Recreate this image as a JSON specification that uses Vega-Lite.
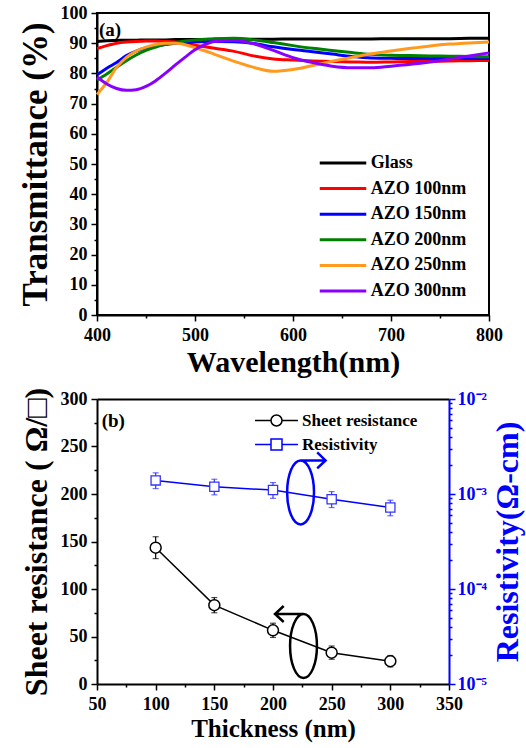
{
  "$schema": "https://vega.github.io/schema/vega-lite/v6.json",
  "padding": {"left": 16, "top": 3, "right": 5, "bottom": 5},
  "spacing": 9,
  "resolve": {"scale": {"color": "independent", "shape": "independent"}, "legend": {"color": "independent", "shape": "independent"}},
  "config": {
    "font": "Liberation Serif",
    "view": {"stroke": null},
    "axis": {
      "labelFont": "Liberation Serif", "labelFontWeight": "bold", "labelFontSize": 18, "labelColor": "black",
      "titleFont": "Liberation Serif", "titleFontWeight": "bold", "titleColor": "black",
      "domainColor": "black", "domainWidth": 2, "tickColor": "black", "tickWidth": 1.5,
      "grid": false, "labelOverlap": false, "labelFlush": false
    },
    "legend": {"labelFont": "Liberation Serif", "labelFontWeight": "bold", "labelColor": "black"}
  },
  "datasets": {
    "trans": [
      {"wl":400,"sample":"Glass","T":90.6},{"wl":410,"sample":"Glass","T":90.8},{"wl":420,"sample":"Glass","T":90.9},{"wl":430,"sample":"Glass","T":91.0},{"wl":440,"sample":"Glass","T":91.0},{"wl":450,"sample":"Glass","T":91.1},{"wl":460,"sample":"Glass","T":91.1},{"wl":470,"sample":"Glass","T":91.1},{"wl":480,"sample":"Glass","T":91.2},{"wl":490,"sample":"Glass","T":91.2},{"wl":500,"sample":"Glass","T":91.2},{"wl":510,"sample":"Glass","T":91.2},{"wl":520,"sample":"Glass","T":91.3},{"wl":540,"sample":"Glass","T":91.3},{"wl":560,"sample":"Glass","T":91.3},{"wl":580,"sample":"Glass","T":91.3},{"wl":600,"sample":"Glass","T":91.4},{"wl":620,"sample":"Glass","T":91.4},{"wl":640,"sample":"Glass","T":91.4},{"wl":660,"sample":"Glass","T":91.4},{"wl":680,"sample":"Glass","T":91.4},{"wl":700,"sample":"Glass","T":91.5},{"wl":720,"sample":"Glass","T":91.5},{"wl":740,"sample":"Glass","T":91.5},{"wl":760,"sample":"Glass","T":91.5},{"wl":780,"sample":"Glass","T":91.6},{"wl":800,"sample":"Glass","T":91.6},
      {"wl":400,"sample":"AZO 100nm","T":88.2},{"wl":410,"sample":"AZO 100nm","T":89.2},{"wl":420,"sample":"AZO 100nm","T":90.0},{"wl":430,"sample":"AZO 100nm","T":90.4},{"wl":440,"sample":"AZO 100nm","T":90.6},{"wl":450,"sample":"AZO 100nm","T":90.7},{"wl":460,"sample":"AZO 100nm","T":90.7},{"wl":470,"sample":"AZO 100nm","T":90.6},{"wl":480,"sample":"AZO 100nm","T":90.4},{"wl":490,"sample":"AZO 100nm","T":89.9},{"wl":500,"sample":"AZO 100nm","T":89.3},{"wl":510,"sample":"AZO 100nm","T":88.8},{"wl":520,"sample":"AZO 100nm","T":88.3},{"wl":540,"sample":"AZO 100nm","T":87.3},{"wl":560,"sample":"AZO 100nm","T":85.8},{"wl":580,"sample":"AZO 100nm","T":84.8},{"wl":600,"sample":"AZO 100nm","T":84.4},{"wl":620,"sample":"AZO 100nm","T":84.1},{"wl":640,"sample":"AZO 100nm","T":83.9},{"wl":660,"sample":"AZO 100nm","T":83.8},{"wl":680,"sample":"AZO 100nm","T":83.7},{"wl":700,"sample":"AZO 100nm","T":83.8},{"wl":720,"sample":"AZO 100nm","T":83.9},{"wl":740,"sample":"AZO 100nm","T":84.0},{"wl":760,"sample":"AZO 100nm","T":84.1},{"wl":780,"sample":"AZO 100nm","T":84.2},{"wl":800,"sample":"AZO 100nm","T":84.3},
      {"wl":400,"sample":"AZO 150nm","T":79.5},{"wl":410,"sample":"AZO 150nm","T":81.7},{"wl":420,"sample":"AZO 150nm","T":83.6},{"wl":430,"sample":"AZO 150nm","T":85.9},{"wl":440,"sample":"AZO 150nm","T":87.4},{"wl":450,"sample":"AZO 150nm","T":88.4},{"wl":460,"sample":"AZO 150nm","T":89.1},{"wl":470,"sample":"AZO 150nm","T":89.6},{"wl":480,"sample":"AZO 150nm","T":90.0},{"wl":490,"sample":"AZO 150nm","T":90.2},{"wl":500,"sample":"AZO 150nm","T":90.4},{"wl":510,"sample":"AZO 150nm","T":90.5},{"wl":520,"sample":"AZO 150nm","T":90.6},{"wl":540,"sample":"AZO 150nm","T":90.5},{"wl":560,"sample":"AZO 150nm","T":89.9},{"wl":580,"sample":"AZO 150nm","T":88.8},{"wl":600,"sample":"AZO 150nm","T":87.9},{"wl":620,"sample":"AZO 150nm","T":87.2},{"wl":640,"sample":"AZO 150nm","T":86.4},{"wl":660,"sample":"AZO 150nm","T":85.6},{"wl":680,"sample":"AZO 150nm","T":85.1},{"wl":700,"sample":"AZO 150nm","T":85.0},{"wl":720,"sample":"AZO 150nm","T":84.9},{"wl":740,"sample":"AZO 150nm","T":84.9},{"wl":760,"sample":"AZO 150nm","T":84.9},{"wl":780,"sample":"AZO 150nm","T":84.9},{"wl":800,"sample":"AZO 150nm","T":84.9},
      {"wl":400,"sample":"AZO 200nm","T":77.8},{"wl":410,"sample":"AZO 200nm","T":79.8},{"wl":420,"sample":"AZO 200nm","T":82.0},{"wl":430,"sample":"AZO 200nm","T":84.2},{"wl":440,"sample":"AZO 200nm","T":86.1},{"wl":450,"sample":"AZO 200nm","T":87.6},{"wl":460,"sample":"AZO 200nm","T":88.7},{"wl":470,"sample":"AZO 200nm","T":89.6},{"wl":480,"sample":"AZO 200nm","T":90.2},{"wl":490,"sample":"AZO 200nm","T":90.7},{"wl":500,"sample":"AZO 200nm","T":91.1},{"wl":510,"sample":"AZO 200nm","T":91.3},{"wl":520,"sample":"AZO 200nm","T":91.5},{"wl":540,"sample":"AZO 200nm","T":91.6},{"wl":560,"sample":"AZO 200nm","T":91.1},{"wl":580,"sample":"AZO 200nm","T":90.2},{"wl":600,"sample":"AZO 200nm","T":89.2},{"wl":620,"sample":"AZO 200nm","T":88.3},{"wl":640,"sample":"AZO 200nm","T":87.6},{"wl":660,"sample":"AZO 200nm","T":86.9},{"wl":680,"sample":"AZO 200nm","T":86.3},{"wl":700,"sample":"AZO 200nm","T":86.0},{"wl":720,"sample":"AZO 200nm","T":85.9},{"wl":740,"sample":"AZO 200nm","T":85.8},{"wl":760,"sample":"AZO 200nm","T":85.7},{"wl":780,"sample":"AZO 200nm","T":85.6},{"wl":800,"sample":"AZO 200nm","T":85.5},
      {"wl":400,"sample":"AZO 250nm","T":73.0},{"wl":410,"sample":"AZO 250nm","T":77.0},{"wl":420,"sample":"AZO 250nm","T":82.0},{"wl":430,"sample":"AZO 250nm","T":85.3},{"wl":440,"sample":"AZO 250nm","T":87.4},{"wl":450,"sample":"AZO 250nm","T":88.7},{"wl":460,"sample":"AZO 250nm","T":89.6},{"wl":470,"sample":"AZO 250nm","T":90.0},{"wl":480,"sample":"AZO 250nm","T":90.0},{"wl":490,"sample":"AZO 250nm","T":89.5},{"wl":500,"sample":"AZO 250nm","T":88.5},{"wl":510,"sample":"AZO 250nm","T":87.5},{"wl":520,"sample":"AZO 250nm","T":86.3},{"wl":540,"sample":"AZO 250nm","T":84.0},{"wl":560,"sample":"AZO 250nm","T":82.0},{"wl":580,"sample":"AZO 250nm","T":80.7},{"wl":600,"sample":"AZO 250nm","T":81.3},{"wl":620,"sample":"AZO 250nm","T":82.6},{"wl":640,"sample":"AZO 250nm","T":84.0},{"wl":660,"sample":"AZO 250nm","T":85.3},{"wl":680,"sample":"AZO 250nm","T":86.5},{"wl":700,"sample":"AZO 250nm","T":87.4},{"wl":720,"sample":"AZO 250nm","T":88.3},{"wl":740,"sample":"AZO 250nm","T":89.1},{"wl":760,"sample":"AZO 250nm","T":89.7},{"wl":780,"sample":"AZO 250nm","T":90.1},{"wl":800,"sample":"AZO 250nm","T":90.4},
      {"wl":400,"sample":"AZO 300nm","T":78.8},{"wl":410,"sample":"AZO 300nm","T":76.5},{"wl":420,"sample":"AZO 300nm","T":75.0},{"wl":430,"sample":"AZO 300nm","T":74.4},{"wl":440,"sample":"AZO 300nm","T":74.6},{"wl":450,"sample":"AZO 300nm","T":75.7},{"wl":460,"sample":"AZO 300nm","T":77.6},{"wl":470,"sample":"AZO 300nm","T":80.1},{"wl":480,"sample":"AZO 300nm","T":82.8},{"wl":490,"sample":"AZO 300nm","T":85.4},{"wl":500,"sample":"AZO 300nm","T":87.8},{"wl":510,"sample":"AZO 300nm","T":89.5},{"wl":520,"sample":"AZO 300nm","T":90.6},{"wl":540,"sample":"AZO 300nm","T":90.9},{"wl":560,"sample":"AZO 300nm","T":89.8},{"wl":580,"sample":"AZO 300nm","T":87.6},{"wl":600,"sample":"AZO 300nm","T":85.2},{"wl":620,"sample":"AZO 300nm","T":83.6},{"wl":640,"sample":"AZO 300nm","T":82.4},{"wl":660,"sample":"AZO 300nm","T":81.9},{"wl":680,"sample":"AZO 300nm","T":81.9},{"wl":700,"sample":"AZO 300nm","T":82.4},{"wl":720,"sample":"AZO 300nm","T":83.0},{"wl":740,"sample":"AZO 300nm","T":83.8},{"wl":760,"sample":"AZO 300nm","T":84.8},{"wl":780,"sample":"AZO 300nm","T":85.8},{"wl":800,"sample":"AZO 300nm","T":86.8}
    ],
    "sheet": [
      {"t":100,"s":143.5,"lo":132,"hi":155},
      {"t":150,"s":83,"lo":75,"hi":91},
      {"t":200,"s":56.5,"lo":49,"hi":64},
      {"t":250,"s":33,"lo":26,"hi":40},
      {"t":300,"s":24,"lo":18,"hi":30}
    ],
    "resist": [
      {"t":100,"r":0.00139,"lo":0.00114,"hi":0.00167},
      {"t":150,"r":0.00119,"lo":0.00098,"hi":0.00143},
      {"t":200,"r":0.00110,"lo":0.00090,"hi":0.00132},
      {"t":250,"r":0.00088,"lo":0.00072,"hi":0.00106},
      {"t":300,"r":0.00072,"lo":0.00059,"hi":0.00086}
    ],
    "legendB": [
      {"series":"Sheet resistance","t":100,"s":143.5},
      {"series":"Resistivity","t":150,"s":83}
    ],
    "one": [{"k": 1}]
  },
  "vconcat": [
    {
      "width": 392,
      "height": 302,
      "view": {"stroke": "black", "strokeWidth": 2},
      "layer": [
        {
          "data": {"name": "trans"},
          "mark": {"type": "line", "strokeWidth": 3, "interpolate": "monotone"},
          "encoding": {
            "x": {"field": "wl", "type": "quantitative", "title": "Wavelength(nm)", "scale": {"domain": [400, 800], "nice": false},
              "axis": {"title": "Wavelength(nm)", "titleFontSize": 30, "titlePadding": 3, "values": [400,450,500,550,600,650,700,750,800], "tickCount": 100, "labelOverlap": false,
                "labelExpr": "datum.value % 100 == 0 ? datum.label : ''", "tickSize": {"condition": {"test": "datum.value % 100 == 0", "value": 6}, "value": 3}, "labelPadding": 5}},
            "y": {"field": "T", "type": "quantitative", "title": "Transmittance (%)", "scale": {"domain": [0, 100], "nice": false},
              "axis": {"title": "Transmittance (%)", "titleFontSize": 35, "titlePadding": 7, "values": [0,5,10,15,20,25,30,35,40,45,50,55,60,65,70,75,80,85,90,95,100], "tickCount": 100, "labelOverlap": false,
                "labelExpr": "datum.value % 10 == 0 ? datum.label : ''",
                "tickSize": {"condition": {"test": "datum.value % 10 == 0", "value": 6}, "value": 3}, "labelPadding": 4}},
            "color": {"field": "sample", "type": "nominal",
              "scale": {"domain": ["Glass","AZO 100nm","AZO 150nm","AZO 200nm","AZO 250nm","AZO 300nm"],
                        "range": ["#000000","#ff0000","#0000ff","#008000","#ff9a1f","#8a00ff"]},
              "legend": {"title": null, "orient": "none", "legendX": 237, "legendY": 141,
                "symbolType": "M-3.1,0H3.1", "symbolSize": 225, "symbolStrokeWidth": 3,
                "labelFontSize": 18, "labelFontWeight": "bold", "labelOffset": 18.7, "rowPadding": 7.6, "labelLimit": 300}}
          }
        },
        {
          "data": {"name": "one"},
          "mark": {"type": "text", "text": "(a)", "fontSize": 19, "fontWeight": "bold", "align": "left", "baseline": "middle", "color": "black"},
          "encoding": {"x": {"datum": 402, "type": "quantitative"}, "y": {"datum": 94.3, "type": "quantitative"}}
        }
      ]
    },
    {
      "width": 352,
      "height": 285,
      "view": {"stroke": null},
      "resolve": {"scale": {"y": "independent"}, "axis": {"x": "independent", "y": "independent"}},
      "layer": [
        {
          "layer": [
            {
              "data": {"name": "sheet"},
              "mark": {"type": "errorbar", "ticks": true, "color": "black", "thickness": 1.2, "size": 6},
              "encoding": {
                "x": {"field": "t", "type": "quantitative", "title": "Thickness (nm)", "scale": {"domain": [50, 350], "nice": false},
                  "axis": {"title": "Thickness (nm)", "titleFontSize": 25, "titlePadding": 3, "values": [50,75,100,125,150,175,200,225,250,275,300,325,350], "tickCount": 100, "labelOverlap": false,
                    "labelExpr": "datum.value % 50 == 0 ? datum.label : ''", "tickSize": {"condition": {"test": "datum.value % 50 == 0", "value": 6}, "value": 3}, "labelPadding": 5}},
                "y": {"field": "lo", "type": "quantitative", "title": "Sheet resistance ( Ω/□)", "scale": {"domain": [0, 300], "nice": false},
                  "axis": {"title": "Sheet resistance ( Ω/□)", "titleFontSize": 32, "titlePadding": 7, "values": [0,25,50,75,100,125,150,175,200,225,250,275,300], "tickCount": 100, "labelOverlap": false,
                    "labelExpr": "datum.value % 50 == 0 ? datum.label : ''", "tickSize": {"condition": {"test": "datum.value % 50 == 0", "value": 6}, "value": 3}, "labelPadding": 4}},
                "y2": {"field": "hi"}
              }
            },
            {
              "data": {"name": "sheet"},
              "mark": {"type": "line", "color": "black", "strokeWidth": 1.5},
              "encoding": {
                "x": {"field": "t", "type": "quantitative", "title": "Thickness (nm)"},
                "y": {"field": "s", "type": "quantitative", "title": "Sheet resistance ( Ω/□)"}
              }
            },
            {
              "data": {"name": "sheet"},
              "mark": {"type": "point", "shape": "circle", "size": 120, "filled": true, "fill": "white", "stroke": "black", "strokeWidth": 1.5, "opacity": 1},
              "encoding": {
                "x": {"field": "t", "type": "quantitative", "title": "Thickness (nm)"},
                "y": {"field": "s", "type": "quantitative", "title": "Sheet resistance ( Ω/□)"}
              }
            },
            {
              "data": {"name": "legendB"},
              "mark": {"type": "point", "filled": false, "opacity": 0, "strokeWidth": 1.5},
              "encoding": {
                "x": {"field": "t", "type": "quantitative", "title": "Thickness (nm)"},
                "y": {"field": "s", "type": "quantitative", "title": "Sheet resistance ( Ω/□)"},
                "color": {"field": "series", "type": "nominal", "scale": {"domain": ["Sheet resistance", "Resistivity"], "range": ["#000000", "#0000ff"]},
                  "legend": {"title": null, "orient": "none", "legendX": 171, "legendY": 13, "symbolSize": 121, "symbolStrokeWidth": 1.5, "symbolOpacity": 1,
                    "labelFontSize": 17, "labelFontWeight": "bold", "labelFont": "Liberation Serif", "labelColor": "black", "labelOffset": 17, "rowPadding": 6, "labelLimit": 300}},
                "shape": {"field": "series", "type": "nominal", "scale": {"domain": ["Sheet resistance", "Resistivity"],
                  "range": ["M-3.9,0H-1M1,0H3.9M-1,0A1,1 0 1,1 1,0A1,1 0 1,1 -1,0Z", "M-3.9,0H-1M1,0H3.9M-1,-1H1V1H-1Z"]}}
              }
            },
            {
              "data": {"name": "one"},
              "mark": {"type": "text", "text": "(b)", "fontSize": 19, "fontWeight": "bold", "align": "left", "baseline": "middle", "color": "black"},
              "encoding": {"x": {"datum": 54, "type": "quantitative"}, "y": {"datum": 277, "type": "quantitative"}}
            },
            {
              "data": {"name": "one"},
              "mark": {"type": "point", "filled": false, "stroke": "black", "strokeWidth": 2.5, "size": 4096, "opacity": 1,
                "shape": "M0,-1A0.42,1 0 1,1 0,1A0.42,1 0 1,1 0,-1ZM0,-1H-0.89M-0.62,-1.25L-0.89,-1L-0.62,-0.75"},
              "encoding": {"x": {"datum": 226, "type": "quantitative"}, "y": {"datum": 40, "type": "quantitative"}}
            }
          ]
        },
        {
          "layer": [
            {
              "data": {"name": "resist"},
              "mark": {"type": "errorbar", "ticks": true, "color": "#3333ff", "thickness": 1.2, "size": 6},
              "encoding": {
                "x": {"field": "t", "type": "quantitative", "axis": {"orient": "top", "labels": false, "ticks": false, "title": null, "domainColor": "black"}},
                "y": {"field": "lo", "type": "quantitative", "title": "Resistivity(Ω-cm)", "scale": {"type": "log", "domain": [0.00001, 0.01], "nice": false},
                  "axis": {"orient": "right", "title": "Resistivity(Ω-cm)", "titleFontSize": 32, "titleAngle": 270, "titleBaseline": "top", "titlePadding": 6, "titleColor": "#0000ff",
                    "labelColor": "#0000ff", "domainColor": "#0000ff", "tickColor": "#0000ff", "labelPadding": 2, "labelOverlap": false, "tickCount": 100,
                    "values": [0.00001,0.00002,0.00003,0.00004,0.00005,0.00006,0.00007,0.00008,0.00009,0.0001,0.0002,0.0003,0.0004,0.0005,0.0006,0.0007,0.0008,0.0009,0.001,0.002,0.003,0.004,0.005,0.006,0.007,0.008,0.009,0.01],
                    "labelExpr": "abs(log(datum.value)/LN10 - round(log(datum.value)/LN10)) < 0.01 ? (round(log(datum.value)/LN10) == -2 ? '10⁻²' : round(log(datum.value)/LN10) == -3 ? '10⁻³' : round(log(datum.value)/LN10) == -4 ? '10⁻⁴' : '10⁻⁵') : ''",
                    "tickSize": {"condition": {"test": "abs(log(datum.value)/LN10 - round(log(datum.value)/LN10)) < 0.01", "value": 6}, "value": 3}}},
                "y2": {"field": "hi"}
              }
            },
            {
              "data": {"name": "resist"},
              "mark": {"type": "line", "color": "#0000ff", "strokeWidth": 1.5},
              "encoding": {
                "x": {"field": "t", "type": "quantitative"},
                "y": {"field": "r", "type": "quantitative", "title": "Resistivity(Ω-cm)"}
              }
            },
            {
              "data": {"name": "resist"},
              "mark": {"type": "point", "shape": "square", "size": 85, "filled": true, "fill": "white", "stroke": "#3333ff", "strokeWidth": 1.3, "opacity": 1},
              "encoding": {
                "x": {"field": "t", "type": "quantitative"},
                "y": {"field": "r", "type": "quantitative", "title": "Resistivity(Ω-cm)"}
              }
            },
            {
              "data": {"name": "one"},
              "mark": {"type": "point", "filled": false, "stroke": "#0000ff", "strokeWidth": 2.5, "size": 4096, "opacity": 1,
                "shape": "M0,-1A0.42,1 0 1,1 0,1A0.42,1 0 1,1 0,-1ZM0,-1H0.78M0.52,-1.25L0.78,-1L0.52,-0.75"},
              "encoding": {"x": {"datum": 223.5, "type": "quantitative"}, "y": {"datum": 0.00104, "type": "quantitative"}}
            }
          ]
        }
      ]
    }
  ]
}
